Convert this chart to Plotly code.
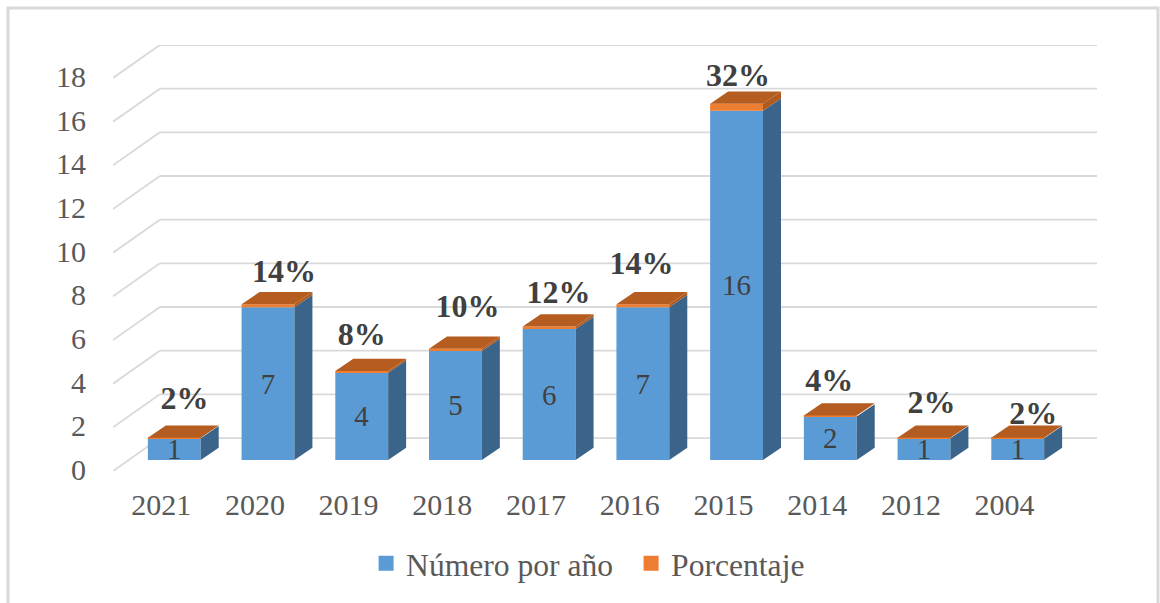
import plotly.graph_objects as go

categories = ["2021", "2020", "2019", "2018", "2017", "2016", "2015", "2014", "2012", "2004"]
numero = [1, 7, 4, 5, 6, 7, 16, 2, 1, 1]
porcentaje = [0.02, 0.14, 0.08, 0.10, 0.12, 0.14, 0.32, 0.04, 0.02, 0.02]
pct_labels = ["2%", "14%", "8%", "10%", "12%", "14%", "32%", "4%", "2%", "2%"]
y_ticks = [0, 2, 4, 6, 8, 10, 12, 14, 16, 18]

# label placement relative to each bar (category units / value units)
label_dx = [0.11, 0.17, 0.0, 0.13, 0.10, -0.015, 0.015, -0.012, 0.08, 0.165]
label_lift = [2.21, 2.03, 2.14, 2.42, 2.06, 2.38, 2.00, 2.03, 2.03, 1.52]

# pseudo-3D projection, in axis units
BAR_W = 0.564
BASE = 0.5          # bar front plane above the axis front plane
DEPTH_X = 0.192     # bar depth
DEPTH_Y = 0.56
WALL_X = 0.50       # wall offset
WALL_Y = 1.51
X_MIN, X_MAX = -0.654, 9.846
Y_MIN, Y_MAX = 0, 19.51

FONT = "Liberation Serif"
TXT = "#595959"
DARK = "#404040"
BLUE, ORANGE = "#5b9bd5", "#ed7d31"
BLUE_SIDE, TOP, ORANGE_SIDE = "#3a6489", "#b55d20", "#ae5a21"
GRID = "#d9d9d9"

x = list(range(len(categories)))


def poly(points, target):
    xs, ys = target
    for px, py in points:
        xs.append(px)
        ys.append(py)
    xs.append(points[0][0])
    ys.append(points[0][1])
    xs.append(None)
    ys.append(None)


fig = go.Figure()
fig.add_bar(
    x=x, y=numero, base=[BASE] * len(x), width=BAR_W, name="Número por año",
    marker=dict(color=BLUE, line_width=0), showlegend=False,
    text=[str(v) for v in numero], textposition="inside", insidetextanchor="middle",
    constraintext="none", textangle=0,
    insidetextfont=dict(family=FONT, size=29, color=DARK), hoverinfo="skip",
)
fig.add_bar(
    x=x, y=porcentaje, base=[v + BASE for v in numero], width=BAR_W, name="Porcentaje",
    marker=dict(color=ORANGE, line_width=0), showlegend=False, hoverinfo="skip",
)

side, side_o, top = ([], []), ([], []), ([], [])
for c, v, p in zip(x, numero, porcentaje):
    r = c + BAR_W / 2
    l = c - BAR_W / 2
    y0 = BASE
    y1 = BASE + v
    y2 = y1 + p
    poly([(r, y0), (r + DEPTH_X, y0 + DEPTH_Y), (r + DEPTH_X, y1 + DEPTH_Y), (r, y1)], side)
    poly([(r, y1), (r + DEPTH_X, y1 + DEPTH_Y), (r + DEPTH_X, y2 + DEPTH_Y), (r, y2)], side_o)
    poly([(l, y2), (r, y2), (r + DEPTH_X, y2 + DEPTH_Y), (l + DEPTH_X, y2 + DEPTH_Y)], top)

for (xs, ys), col in ((side, BLUE_SIDE), (side_o, ORANGE_SIDE), (top, TOP)):
    fig.add_scatter(x=xs, y=ys, mode="lines", fill="toself", fillcolor=col,
                    line=dict(width=0, color=col), showlegend=False, hoverinfo="skip")

fig.add_scatter(
    x=[c + d for c, d in zip(x, label_dx)],
    y=[v + d for v, d in zip(numero, label_lift)],
    mode="text", text=pct_labels, textposition="middle center",
    textfont=dict(family=FONT, size=32, color=DARK, weight="bold"),
    showlegend=False, hoverinfo="skip",
)

# legend keys
for name, col in (("Número por año", BLUE), ("Porcentaje", ORANGE)):
    fig.add_scatter(x=[None], y=[None], mode="markers", name=name,
                    marker=dict(symbol="square", size=15, color=col), hoverinfo="skip")

shapes = []
for t in y_ticks:
    shapes.append(dict(type="line", layer="below", xref="x", yref="y", x0=X_MIN, y0=t,
                       x1=X_MIN + WALL_X, y1=t + WALL_Y, line=dict(color=GRID, width=1.8)))
    shapes.append(dict(type="line", layer="below", xref="x", yref="y", x0=X_MIN + WALL_X,
                       y0=t + WALL_Y, x1=X_MAX, y1=t + WALL_Y, line=dict(color=GRID, width=1.8)))

# chart frame (open at the bottom), paper units
shapes.append(dict(type="path", xref="paper", yref="paper",
                   path="M -0.1067,-0.33 L -0.1067,1.0869 L 1.0620,1.0869 L 1.0620,-0.33",
                   line=dict(color=GRID, width=3)))

fig.update_layout(
    width=1160, height=603, paper_bgcolor="white", plot_bgcolor="white",
    margin=dict(l=113, r=63, t=45, b=132),
    barmode="overlay", shapes=shapes,
    font=dict(family=FONT, size=30, color=TXT),
    xaxis=dict(range=[X_MIN, X_MAX], tickmode="array", tickvals=[c - 0.14 for c in x],
               ticktext=categories, showgrid=False, zeroline=False, showline=False,
               ticks="", ticklabelstandoff=13,
               tickfont=dict(family=FONT, size=30, color=TXT)),
    yaxis=dict(range=[Y_MIN, Y_MAX], tickmode="array", tickvals=[t + 0.07 for t in y_ticks],
               ticktext=[str(t) for t in y_ticks], showgrid=False,
               zeroline=False, showline=False, ticks="", ticklabelstandoff=26,
               tickfont=dict(family=FONT, size=30, color=TXT)),
    legend=dict(orientation="h", xref="container", yref="container", x=0.3156, xanchor="left",
                y=0.065, yanchor="middle", font=dict(family=FONT, size=31.6, color=TXT),
                entrywidth=220, entrywidthmode="pixels",
                itemclick=False, itemdoubleclick=False, traceorder="normal",
                bgcolor="rgba(0,0,0,0)"),
)

fig.write_html("out.html", config={"displayModeBar": False},
               post_script="document.body.style.margin='0';")
